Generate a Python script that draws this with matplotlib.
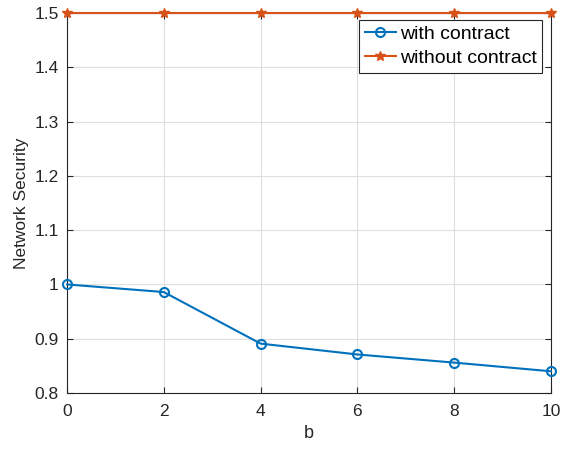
import matplotlib
matplotlib.use("Agg")
import matplotlib.pyplot as plt

plt.rcParams['font.family'] = ['Liberation Sans', 'DejaVu Sans']

b = [0, 2, 4, 6, 8, 10]
with_contract = [1.0, 0.986, 0.891, 0.871, 0.856, 0.840]
without_contract = [1.5, 1.5, 1.5, 1.5, 1.5, 1.5]

fig = plt.figure(figsize=(5.61, 4.49), dpi=100)
ax = fig.add_axes([0.1194, 0.1247, 0.8627, 0.8463])

ax.plot(b, with_contract, color='#0072BD', lw=1.5, marker='o', ms=6.5,
        mfc='none', mew=1.5, label='with contract', clip_on=False, zorder=3)
ax.plot(b, without_contract, color='#D95319', lw=1.5, marker='*', ms=7,
        mew=1.0, label='without contract', clip_on=False, zorder=3)

ax.set_xlim(0, 10)
ax.set_ylim(0.8, 1.5)
ax.set_xticks(b)
ax.set_yticks([0.8, 0.9, 1.0, 1.1, 1.2, 1.3, 1.4, 1.5])
ax.set_yticklabels(['0.8', '0.9', '1', '1.1', '1.2', '1.3', '1.4', '1.5'])
ax.grid(True, color='#DFDFDF', lw=0.8)
ax.set_axisbelow(True)
for s in ax.spines.values():
    s.set_color('#262626')
    s.set_linewidth(0.8)
ax.tick_params(direction='in', length=4, colors='#262626', labelsize=12.5,
               top=True, right=True)
ax.tick_params(axis='x', pad=8)
ax.tick_params(axis='y', pad=6)
ax.set_xlabel('b', fontsize=13, color='#262626', labelpad=4)
ax.set_ylabel('Network Security', fontsize=12.5, color='#262626', labelpad=4)

leg = ax.legend(loc='upper right', bbox_to_anchor=(0.982, 0.982), fontsize=14,
                fancybox=False, edgecolor='#262626', framealpha=1,
                handlelength=1.6, borderpad=0.3, labelspacing=0.3,
                handletextpad=0.2, borderaxespad=0)
leg.get_frame().set_linewidth(0.8)

fig.savefig('out.png', dpi=100)
